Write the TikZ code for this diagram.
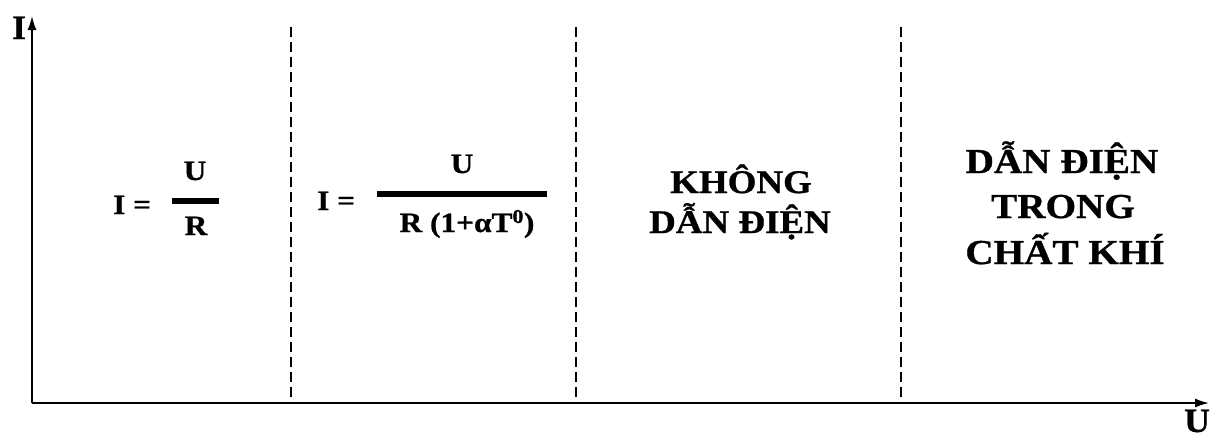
\documentclass[tikz,border=0pt]{standalone}
\usepackage{fontspec}
\setmainfont{Liberation Serif}
\newfontfamily\widefont[FakeStretch=1.12,BoldFeatures={FakeBold=0.8}]{Liberation Serif}
\newfontfamily\lblfont[FakeStretch=1.05,BoldFeatures={FakeBold=0.8}]{Liberation Serif}
\usetikzlibrary{arrows.meta}
\tikzset{
  axis/.style={line width=1.6pt,-{Latex[length=14pt,width=9pt]}},
  divider/.style={line width=1.4pt,dash pattern=on 10pt off 5pt},
  fracbar/.style={line width=5.5pt},
  bigtxt/.style={inner sep=0pt,anchor=base,font=\widefont\bfseries\fontsize{33}{38}\selectfont},
  rtxt/.style={inner sep=0pt,anchor=base,font=\widefont\bfseries\fontsize{35}{40}\selectfont},
  ftxt/.style={inner sep=0pt,font=\widefont\bfseries\fontsize{28}{32}\selectfont},
  lbl/.style={inner sep=0pt,font=\lblfont\bfseries\fontsize{34}{38}\selectfont}
}
\begin{document}
\begin{tikzpicture}[x=1pt,y=-1pt]
\useasboundingbox (0,0) rectangle (1214,440);
% axes
\coordinate (O) at (32,403);
\coordinate (Ytop) at (32,16);
\coordinate (Xend) at (1209,403);
\draw[axis] (O) -- (Ytop);
\draw[axis] (O) -- (Xend);
\node[lbl,anchor=base] (Ilab) at (19,39) {I};
\node[lbl,anchor=base] (Ulab) at (1197,432) {U};
% dividers
\foreach \n/\x in {d1/291,d2/576,d3/901}{
  \coordinate (\n t) at (\x,27);
  \coordinate (\n b) at (\x,403);
  \draw[divider] (\n t) -- (\n b);
}
% formula 1
\node[ftxt,anchor=base west] (f1l) at (113,214) {I =};
\node[ftxt,anchor=base] (f1n) at (195,180) {U};
\node[ftxt,anchor=base] (f1d) at (196,235) {R};
\coordinate (b1a) at (172,201);
\coordinate (b1b) at (219,201);
\draw[fracbar] (b1a) -- (b1b);
% formula 2
\node[ftxt,anchor=base west] (f2l) at (317,210) {I =};
\node[ftxt,anchor=base] (f2n) at (462,173) {U};
\node[ftxt,anchor=base] (f2d) at (467,232) {R (1+αT\textsuperscript{0})};
\coordinate (b2a) at (377,194);
\coordinate (b2b) at (547,194);
\draw[fracbar] (b2a) -- (b2b);
% region 3
\node[bigtxt] (k1) at (741,193) {KHÔNG};
\node[bigtxt] (k2) at (740,233) {DẪN ĐIỆN};
% region 4
\node[rtxt] (g1) at (1062,173) {DẪN ĐIỆN};
\node[rtxt] (g2) at (1063,218) {TRONG};
\node[rtxt] (g3) at (1065,264) {CHẤT KHÍ};
\end{tikzpicture}
\end{document}
